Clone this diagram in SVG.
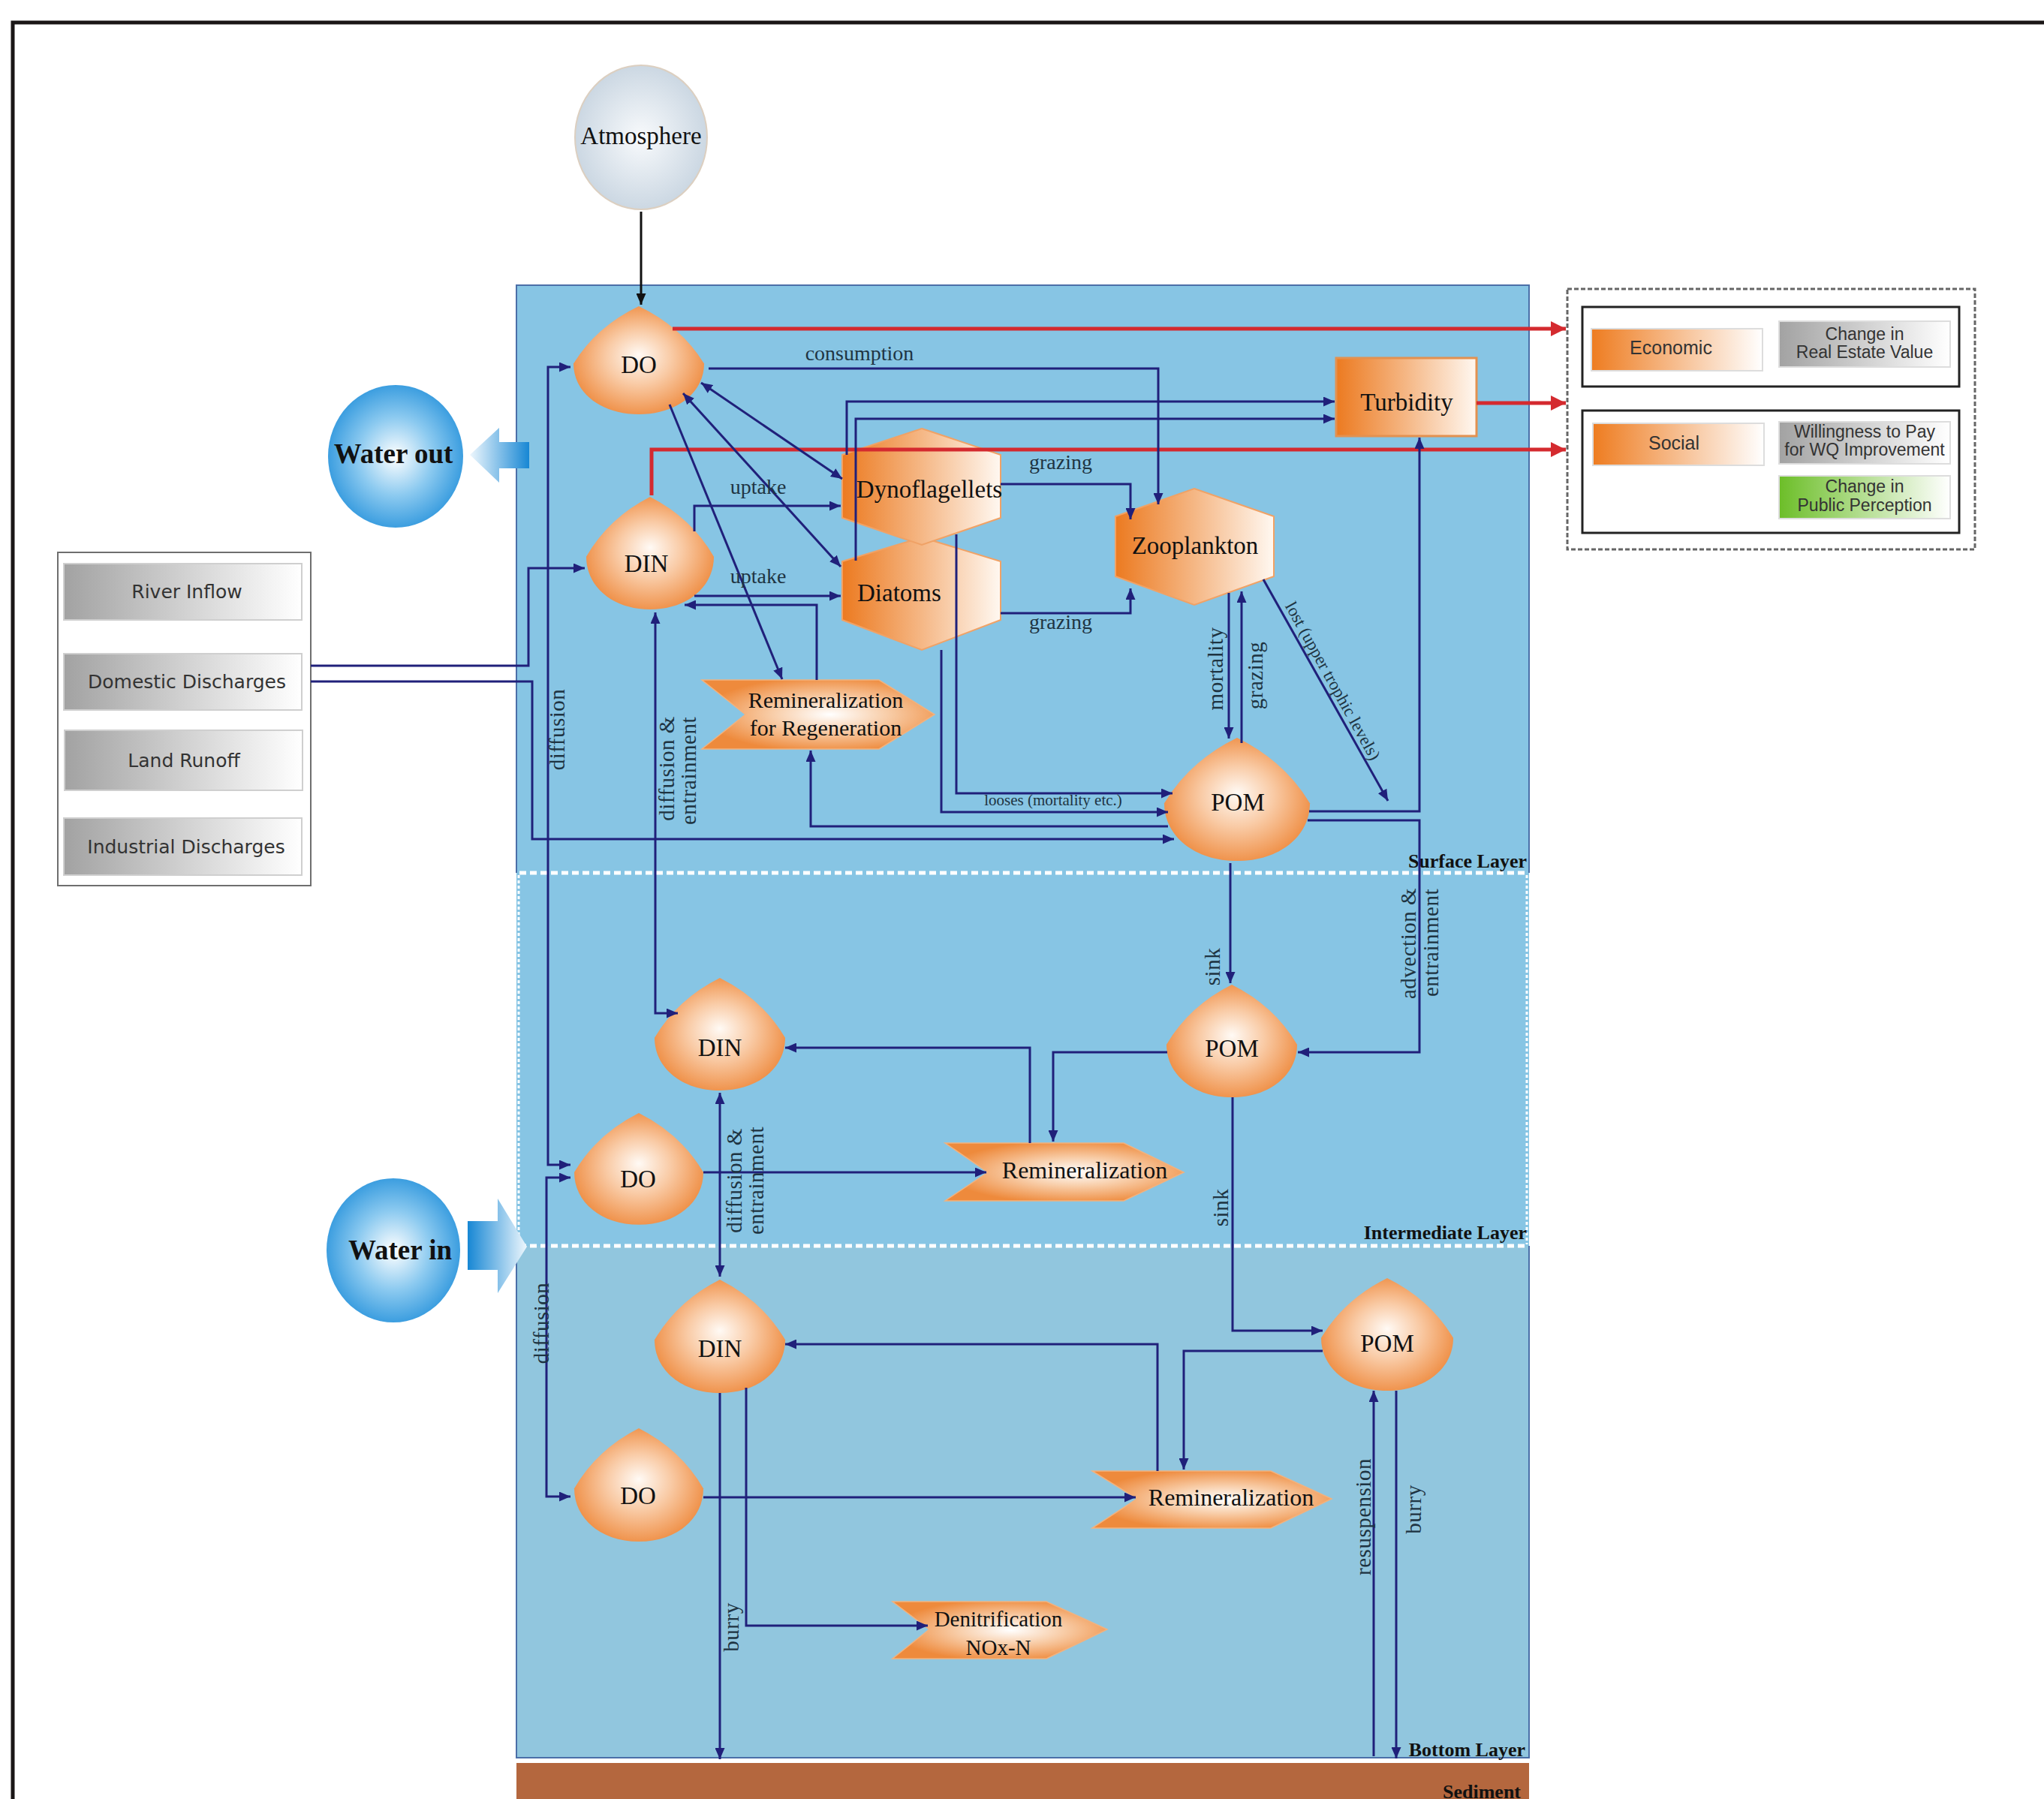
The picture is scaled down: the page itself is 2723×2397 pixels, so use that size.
<svg xmlns="http://www.w3.org/2000/svg" width="2723" height="2397" viewBox="0 0 2723 2397">
<style>
.c{fill:none;stroke:#20207A;stroke-width:3;marker-end:url(#ah)}
.cb{fill:none;stroke:#20207A;stroke-width:3;marker-end:url(#ah);marker-start:url(#ah)}
.cn{fill:none;stroke:#20207A;stroke-width:3}
.r{fill:none;stroke:#D42A2F;stroke-width:5;marker-end:url(#ahr)}
.nt{font-family:'Liberation Serif','Times New Roman',serif;font-size:33px;fill:#111;text-anchor:middle}
.lb{font-family:'Liberation Serif','Times New Roman',serif;font-size:28px;fill:#1E3442;text-anchor:middle}
.lv{font-family:'Liberation Serif','Times New Roman',serif;font-size:29px;fill:#1E3442;text-anchor:middle;letter-spacing:0.5px}
.ly{font-family:'Liberation Serif','Times New Roman',serif;font-size:26px;font-weight:bold;fill:#111;text-anchor:end}
.src{font-family:'DejaVu Sans',Verdana,sans-serif;font-size:25px;fill:#333;text-anchor:middle}
.lg{font-family:'Liberation Sans Narrow','Liberation Sans',Arial,sans-serif;font-size:23px;fill:#333;text-anchor:middle}
.wt{font-family:'Liberation Serif','Times New Roman',serif;font-size:37px;font-weight:bold;fill:#111;text-anchor:middle}
.drop{fill:url(#gDrop)}
.hex{fill:url(#gHex);stroke:#F0A266;stroke-width:2}
.chev{fill:url(#gChev);stroke:#F2B27E;stroke-width:1.5}
.grayr{fill:url(#gGray);stroke:#CFCFCF;stroke-width:2}
</style>
<defs>
<radialGradient id="gDrop" cx="50%" cy="50%" r="55%" fx="50%" fy="45%">
<stop offset="0" stop-color="#FFFAF5"/><stop offset="0.45" stop-color="#F9CBA6"/><stop offset="1" stop-color="#EE8A3E"/>
</radialGradient>
<linearGradient id="gHex" x1="0" y1="0" x2="1" y2="0">
<stop offset="0" stop-color="#EC7A20"/><stop offset="0.5" stop-color="#F5B785"/><stop offset="1" stop-color="#FFF8F1"/>
</linearGradient>
<radialGradient id="gChev" cx="55%" cy="50%" r="55%">
<stop offset="0" stop-color="#FFFFFF"/><stop offset="0.45" stop-color="#F8CDA8"/><stop offset="1" stop-color="#EE8A3C"/>
</radialGradient>
<radialGradient id="gAtm" cx="50%" cy="50%" r="55%">
<stop offset="0" stop-color="#F8FAFC"/><stop offset="1" stop-color="#C7D4E0"/>
</radialGradient>
<radialGradient id="gWater" cx="50%" cy="50%" r="55%">
<stop offset="0" stop-color="#FFFFFF"/><stop offset="0.5" stop-color="#8CCAF0"/><stop offset="1" stop-color="#2A94DC"/>
</radialGradient>
<linearGradient id="gOutArr" gradientUnits="userSpaceOnUse" x1="626" y1="0" x2="705" y2="0">
<stop offset="0" stop-color="#EEF7FD"/><stop offset="1" stop-color="#1787D4"/>
</linearGradient>
<linearGradient id="gInArr" gradientUnits="userSpaceOnUse" x1="623" y1="0" x2="702" y2="0">
<stop offset="0" stop-color="#1787D4"/><stop offset="1" stop-color="#EEF7FD"/>
</linearGradient>
<linearGradient id="gGray" x1="0" y1="0" x2="1" y2="0">
<stop offset="0" stop-color="#A2A2A2"/><stop offset="1" stop-color="#FFFFFF"/>
</linearGradient>
<linearGradient id="gOrg" x1="0" y1="0" x2="1" y2="0">
<stop offset="0" stop-color="#EE7C20"/><stop offset="1" stop-color="#FFFFFF"/>
</linearGradient>
<linearGradient id="gGreen" x1="0" y1="0" x2="1" y2="0">
<stop offset="0" stop-color="#6CBE28"/><stop offset="1" stop-color="#FFFFFF"/>
</linearGradient>
<marker id="ah" viewBox="0 0 15 13" refX="15" refY="6.5" markerWidth="15" markerHeight="13" markerUnits="userSpaceOnUse" orient="auto-start-reverse"><path d="M0,0 L15,6.5 L0,13 z" fill="#20207A"/></marker>
<marker id="ahk" viewBox="0 0 15 13" refX="15" refY="6.5" markerWidth="15" markerHeight="13" markerUnits="userSpaceOnUse" orient="auto"><path d="M0,0 L15,6.5 L0,13 z" fill="#111"/></marker>
<marker id="ahr" viewBox="0 0 20 20" refX="20" refY="10" markerWidth="20" markerHeight="20" markerUnits="userSpaceOnUse" orient="auto"><path d="M0,0 L20,10 L0,20 z" fill="#D42A2F"/></marker>
</defs>

<!-- frame -->
<path d="M17,2397 V30 H2723" fill="none" stroke="#1A1616" stroke-width="5"/>

<!-- water body -->
<g id="waterbody">
<rect x="688" y="380" width="1349" height="1280" fill="#87C5E4"/>
<rect x="688" y="1660" width="1349" height="682" fill="#91C6DE"/>
<path d="M688,1163 V380 H2037 V1163" fill="none" stroke="#4B6FA8" stroke-width="2"/>
<path d="M688,1660 V2342 H2037 V1660" fill="none" stroke="#4B6FA8" stroke-width="2"/>
<path d="M691,1166 V1658 M2034,1166 V1658" fill="none" stroke="#FFFFFF" stroke-width="3" stroke-dasharray="4 3"/>
<path d="M692,1163 H2034 M692,1660 H2034" fill="none" stroke="#FFFFFF" stroke-width="5" stroke-dasharray="9 5"/>
<rect x="688" y="2349" width="1349" height="48" fill="#B4673E"/>
<text class="ly" x="2034" y="1156">Surface Layer</text>
<text class="ly" x="2034" y="1651">Intermediate Layer</text>
<text class="ly" x="2032" y="2340">Bottom Layer</text>
<text class="ly" x="2026" y="2396">Sediment</text>
</g>

<!-- nodes -->
<g id="atmosphere">
<ellipse cx="854" cy="183" rx="88" ry="96" fill="url(#gAtm)" stroke="#DCCFC0" stroke-width="2"/>
<text class="nt" x="854" y="192">Atmosphere</text>
</g>
<g id="water-out">
<ellipse cx="527" cy="608" rx="90" ry="95" fill="url(#gWater)"/>
<path d="M705,589 H665 V570 L626,606 L665,643 V624 H705 Z" fill="url(#gOutArr)"/>
<text class="wt" x="524" y="617">Water out</text>
</g>
<g id="water-in">
<ellipse cx="524" cy="1666" rx="89" ry="96" fill="url(#gWater)"/>
<path d="M623,1627 H663 V1597 L702,1661 L663,1723 V1692 H623 Z" fill="url(#gInArr)"/>
<text class="wt" x="533" y="1678">Water in</text>
</g>
<g id="sources">
<rect x="77" y="736" width="337" height="444" fill="#FFFFFF" stroke="#6E6E6E" stroke-width="2"/>
<rect class="grayr" x="85" y="751" width="317" height="75"/>
<text class="src" x="249" y="797">River Inflow</text>
<rect class="grayr" x="85" y="871" width="317" height="75"/>
<text class="src" x="249" y="917">Domestic Discharges</text>
<rect class="grayr" x="86" y="973" width="317" height="80"/>
<text class="src" x="245" y="1022">Land Runoff</text>
<rect class="grayr" x="85" y="1090" width="317" height="76"/>
<text class="src" x="248" y="1137">Industrial Discharges</text>
</g>

<g id="DO-surface"><path class="drop" transform="translate(851,408) scale(0.87,0.9)" d="M0,0 Q65,30 100,85 C100,128 58,160 0,160 C-58,160 -100,128 -100,85 Q-65,30 0,0 Z"/><text class="nt" x="851" y="497">DO</text></g>
<g id="DIN-surface"><path class="drop" transform="translate(866,662) scale(0.85,0.9375)" d="M0,0 Q65,30 100,85 C100,128 58,160 0,160 C-58,160 -100,128 -100,85 Q-65,30 0,0 Z"/><text class="nt" x="861" y="762">DIN</text></g>
<g id="POM-surface"><path class="drop" transform="translate(1648,983) scale(0.97,1.025)" d="M0,0 Q65,30 100,85 C100,128 58,160 0,160 C-58,160 -100,128 -100,85 Q-65,30 0,0 Z"/><text class="nt" x="1649" y="1080">POM</text></g>
<g id="DIN-intermediate"><path class="drop" transform="translate(959,1303) scale(0.87,0.9375)" d="M0,0 Q65,30 100,85 C100,128 58,160 0,160 C-58,160 -100,128 -100,85 Q-65,30 0,0 Z"/><text class="nt" x="959" y="1407">DIN</text></g>
<g id="POM-intermediate"><path class="drop" transform="translate(1641,1312) scale(0.87,0.9375)" d="M0,0 Q65,30 100,85 C100,128 58,160 0,160 C-58,160 -100,128 -100,85 Q-65,30 0,0 Z"/><text class="nt" x="1641" y="1408">POM</text></g>
<g id="DO-intermediate"><path class="drop" transform="translate(851,1483) scale(0.86,0.93)" d="M0,0 Q65,30 100,85 C100,128 58,160 0,160 C-58,160 -100,128 -100,85 Q-65,30 0,0 Z"/><text class="nt" x="850" y="1582">DO</text></g>
<g id="DIN-bottom"><path class="drop" transform="translate(959,1705) scale(0.87,0.944)" d="M0,0 Q65,30 100,85 C100,128 58,160 0,160 C-58,160 -100,128 -100,85 Q-65,30 0,0 Z"/><text class="nt" x="959" y="1808">DIN</text></g>
<g id="DO-bottom"><path class="drop" transform="translate(851,1903) scale(0.86,0.944)" d="M0,0 Q65,30 100,85 C100,128 58,160 0,160 C-58,160 -100,128 -100,85 Q-65,30 0,0 Z"/><text class="nt" x="850" y="2004">DO</text></g>
<g id="POM-bottom"><path class="drop" transform="translate(1848,1703) scale(0.88,0.9375)" d="M0,0 Q65,30 100,85 C100,128 58,160 0,160 C-58,160 -100,128 -100,85 Q-65,30 0,0 Z"/><text class="nt" x="1848" y="1801">POM</text></g>

<g id="diatoms"><polygon class="hex" points="1228,716 1333,748 1333,826 1228,866 1122,826 1122,748"/><text class="nt" x="1142" y="801" style="text-anchor:start">Diatoms</text></g>
<g id="dynoflagellets"><polygon class="hex" points="1228,571 1333,606 1333,690 1228,726 1122,690 1122,606"/><text class="nt" x="1238" y="663">Dynoflagellets</text></g>
<g id="zooplankton"><polygon class="hex" points="1591,651 1697,688 1697,768 1591,806 1486,768 1486,688"/><text class="nt" x="1592" y="738">Zooplankton</text></g>
<g id="turbidity"><rect x="1780" y="477" width="187" height="104" fill="url(#gHex)" stroke="#E39150" stroke-width="3"/><text class="nt" x="1874" y="547">Turbidity</text></g>

<g id="remin-regeneration"><path class="chev" d="M935,906 H1171 L1245,952 L1171,998 H935 L993,952 Z"/><text class="nt" x="1100" y="943" style="font-size:30px">Remineralization</text><text class="nt" x="1100" y="980" style="font-size:30px">for Regeneration</text></g>
<g id="remin-intermediate"><path class="chev" d="M1259,1523 H1497 L1577,1562 L1497,1600 H1259 L1316,1562 Z"/><text class="nt" x="1445" y="1570" style="font-size:32px">Remineralization</text></g>
<g id="remin-bottom"><path class="chev" d="M1455,1960 H1693 L1774,1997 L1693,2036 H1455 L1515,1997 Z"/><text class="nt" x="1640" y="2006" style="font-size:32px">Remineralization</text></g>
<g id="denitrification"><path class="chev" d="M1189,2134 H1394 L1475,2171 L1394,2210 H1189 L1238,2171 Z"/><text class="nt" x="1330" y="2167" style="font-size:29px">Denitrification</text><text class="nt" x="1330" y="2205" style="font-size:29px">NOx-N</text></g>

<g id="legend">
<rect x="2088" y="385" width="543" height="347" fill="none" stroke="#666" stroke-width="3" stroke-dasharray="6 3"/>
<rect x="2108" y="409" width="502" height="106" fill="#FFFFFF" stroke="#222" stroke-width="3"/>
<rect x="2108" y="547" width="502" height="163" fill="#FFFFFF" stroke="#222" stroke-width="3"/>
<rect x="2120" y="438" width="228" height="56" fill="url(#gOrg)" stroke="#DDD" stroke-width="2"/>
<text class="lg" x="2226" y="472" style="font-size:25px">Economic</text>
<rect x="2370" y="428" width="228" height="61" fill="url(#gGray)" stroke="#DDD" stroke-width="2"/>
<text class="lg" x="2484" y="453">Change in</text>
<text class="lg" x="2484" y="477">Real Estate Value</text>
<rect x="2122" y="564" width="228" height="56" fill="url(#gOrg)" stroke="#DDD" stroke-width="2"/>
<text class="lg" x="2230" y="599" style="font-size:25px">Social</text>
<rect x="2370" y="562" width="228" height="56" fill="url(#gGray)" stroke="#DDD" stroke-width="2"/>
<text class="lg" x="2484" y="583">Willingness to Pay</text>
<text class="lg" x="2484" y="607">for WQ Improvement</text>
<rect x="2370" y="634" width="228" height="57" fill="url(#gGreen)" stroke="#DDD" stroke-width="2"/>
<text class="lg" x="2484" y="656">Change in</text>
<text class="lg" x="2484" y="681">Public Perception</text>
</g>

<!-- connectors -->
<g id="connectors">
<path d="M854,282 V406" fill="none" stroke="#111" stroke-width="3" marker-end="url(#ahk)"/>
<path class="r" d="M896,438 H2086"/>
<path class="r" d="M1967,537 H2086"/>
<path class="r" d="M868,660 V599 H2086"/>
<path class="c" d="M944,491 H1543 V672"/>
<path class="cb" d="M934,510 L1122,638"/>
<path class="cb" d="M910,524 L1120,755"/>
<path class="c" d="M892,539 L1042,905"/>
<path class="c" d="M925,708 V674 H1120"/>
<path class="c" d="M925,794 H1120"/>
<path class="c" d="M1088,906 V806 H912"/>
<path class="cb" d="M873,816 V1350 H903"/>
<path class="c" d="M414,887 H704 V757 H779"/>
<path class="c" d="M414,908 H709 V1118 H1564"/>
<path class="cb" d="M760,489 H730 V1552 H760"/>
<path class="cb" d="M760,1569 H728 V1994 H760"/>
<path class="c" d="M1274,712 V1057 H1562"/>
<path class="c" d="M1254,866 V1082 H1556"/>
<path class="c" d="M1556,1101 H1080 V1000"/>
<path class="c" d="M1128,606 V535 H1778"/>
<path class="c" d="M1140,747 V558 H1778"/>
<path class="c" d="M1333,645 H1506 V692"/>
<path class="c" d="M1333,817 H1506 V784"/>
<path class="c" d="M1637,790 V984"/>
<path class="c" d="M1654,990 V788"/>
<path class="c" d="M1683,772 L1849,1067"/>
<path class="c" d="M1744,1081 H1891 V583"/>
<path class="c" d="M1742,1093 H1891 V1402 H1729"/>
<path class="c" d="M1639,1150 V1310"/>
<path class="c" d="M1555,1402 H1403 V1521"/>
<path class="c" d="M1372,1523 V1396 H1046"/>
<path class="c" d="M937,1562 H1314"/>
<path class="c" d="M1642,1462 V1773 H1762"/>
<path class="cb" d="M959,1456 V1701"/>
<path class="c" d="M1762,1800 H1577 V1958"/>
<path class="c" d="M1542,1960 V1791 H1046"/>
<path class="c" d="M937,1995 H1513"/>
<path class="c" d="M994,1849 V2166 H1236"/>
<path class="c" d="M959,1856 V2344"/>
<path class="c" d="M1830,2340 V1853"/>
<path class="c" d="M1860,1853 V2343"/>

<text class="lb" x="1145" y="480">consumption</text>
<text class="lb" x="1010" y="658">uptake</text>
<text class="lb" x="1010" y="777">uptake</text>
<text class="lb" x="1413" y="625">grazing</text>
<text class="lb" x="1413" y="838">grazing</text>
<text class="lb" x="1403" y="1073" style="font-size:21px">looses (mortality etc.)</text>
<text class="lb" transform="translate(1769,911) rotate(61)" style="font-size:23px">lost (upper trophic levels)</text>
<text class="lv" transform="translate(752,972) rotate(-90)">diffusion</text>
<text class="lv" transform="translate(898,1024) rotate(-90)">diffusion &amp;</text>
<text class="lv" transform="translate(927,1027) rotate(-90)">entrainment</text>
<text class="lv" transform="translate(731,1763) rotate(-90)">diffusion</text>
<text class="lv" transform="translate(988,1573) rotate(-90)">diffusion &amp;</text>
<text class="lv" transform="translate(1017,1573) rotate(-90)">entrainment</text>
<text class="lv" transform="translate(1629,891) rotate(-90)">mortality</text>
<text class="lv" transform="translate(1682,900) rotate(-90)">grazing</text>
<text class="lv" transform="translate(1625,1288) rotate(-90)">sink</text>
<text class="lv" transform="translate(1886,1257) rotate(-90)">advection &amp;</text>
<text class="lv" transform="translate(1916,1256) rotate(-90)">entrainment</text>
<text class="lv" transform="translate(1636,1609) rotate(-90)">sink</text>
<text class="lv" transform="translate(984,2168) rotate(-90)">burry</text>
<text class="lv" transform="translate(1826,2021) rotate(-90)">resuspension</text>
<text class="lv" transform="translate(1893,2011) rotate(-90)">burry</text>
</g>
</svg>
